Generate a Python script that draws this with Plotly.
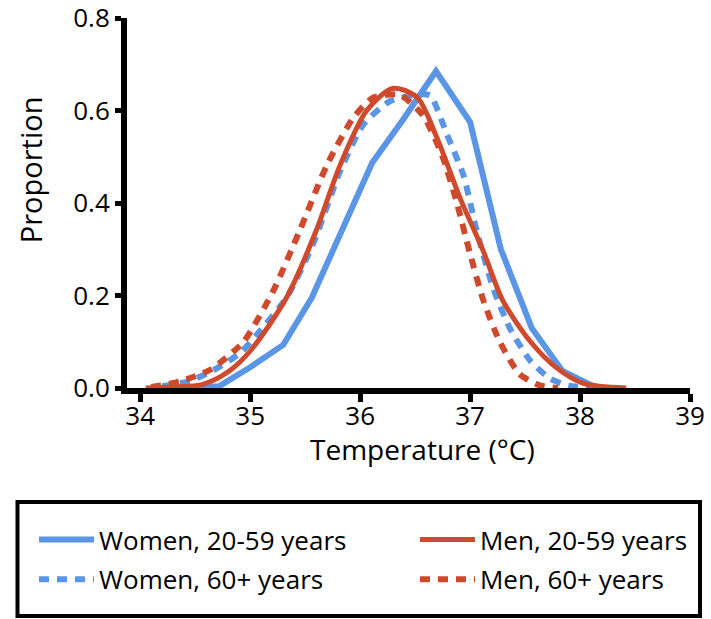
import plotly.graph_objects as go

# ---- data ----
women_young_x = [34.16, 34.44, 34.72, 35.0, 35.3, 35.56, 35.83, 36.11, 36.39, 36.69, 37.0, 37.28, 37.56, 37.84, 38.12]
women_young_y = [0.0, 0.003, 0.004, 0.045, 0.093, 0.195, 0.34, 0.487, 0.58, 0.685, 0.575, 0.30, 0.13, 0.037, 0.004]

women_old_x = [34.2, 34.45, 34.7, 34.91, 35.06, 35.33, 35.57, 35.82, 36.03, 36.27, 36.55, 36.64, 36.79, 36.94, 37.06, 37.21, 37.36, 37.55, 37.73, 37.9, 38.1]
women_old_y = [0.004, 0.015, 0.043, 0.076, 0.115, 0.195, 0.31, 0.47, 0.57, 0.62, 0.635, 0.632, 0.548, 0.46, 0.34, 0.216, 0.13, 0.058, 0.02, 0.005, 0.0]

men_young_x = [34.05, 34.3, 34.57, 34.8, 35.0, 35.33, 35.6, 35.82, 36.06, 36.3, 36.52, 36.7, 36.91, 37.12, 37.3, 37.55, 37.79, 38.03, 38.42]
men_young_y = [0.0, 0.002, 0.008, 0.035, 0.08, 0.195, 0.34, 0.483, 0.6, 0.648, 0.628, 0.54, 0.41, 0.296, 0.188, 0.10, 0.043, 0.01, 0.0]

men_old_x = [34.1, 34.36, 34.64, 34.94, 35.21, 35.45, 35.7, 35.94, 36.12, 36.36, 36.57, 36.75, 36.88, 37.0, 37.12, 37.27, 37.45, 37.64, 37.8]
men_old_y = [0.002, 0.014, 0.04, 0.10, 0.21, 0.34, 0.483, 0.585, 0.628, 0.634, 0.59, 0.50, 0.40, 0.29, 0.19, 0.10, 0.03, 0.005, 0.0]

x_ticks = [34, 35, 36, 37, 38, 39]
y_ticks = [0.0, 0.2, 0.4, 0.6, 0.8]
y_tick_labels = ["0.0", "0.2", "0.4", "0.6", "0.8"]

BLUE = "#5B95E6"
RED = "#CF4A2C"
FONT = "Open Sans"

fig = go.Figure()
fig.add_trace(go.Scatter(x=women_young_x, y=women_young_y, mode="lines", name="Women, 20-59 years",
                         legend="legend", legendgroup="a",
                         line=dict(color=BLUE, width=6)))
fig.add_trace(go.Scatter(x=women_old_x, y=women_old_y, mode="lines", name="Women, 60+ years",
                         legend="legend", legendgroup="b",
                         line=dict(color=BLUE, width=6, dash="10px,8px", shape="spline", smoothing=0.6)))
fig.add_trace(go.Scatter(x=men_young_x, y=men_young_y, mode="lines", name="Men, 20-59 years",
                         legend="legend2", legendgroup="c",
                         line=dict(color=RED, width=5, shape="spline", smoothing=0.8)))
fig.add_trace(go.Scatter(x=men_old_x, y=men_old_y, mode="lines", name="Men, 60+ years",
                         legend="legend2", legendgroup="d",
                         line=dict(color=RED, width=6, dash="10px,8px", shape="spline", smoothing=0.6)))

legend_common = dict(
    orientation="v", yanchor="top", xanchor="left",
    bgcolor="rgba(0,0,0,0)", borderwidth=0,
    font=dict(family=FONT, size=26, color="black"),
    itemwidth=55, tracegroupgap=3,
)

fig.update_layout(
    width=711, height=619,
    margin=dict(l=127, r=21, t=18, b=231, autoexpand=False),
    plot_bgcolor="white", paper_bgcolor="white",
    font=dict(family=FONT, color="black", size=26),
    showlegend=True,
    legend=dict(x=-0.1652, y=-0.346, **legend_common),
    legend2=dict(x=0.5115, y=-0.346, **legend_common),
    xaxis=dict(
        range=[33.88, 39.0], tickmode="array", tickvals=x_ticks,
        ticktext=[str(v) for v in x_ticks],
        showline=True, linecolor="black", linewidth=6, mirror=False,
        ticks="outside", ticklen=8, tickwidth=5, tickcolor="black",
        showgrid=False, zeroline=False,
        tickfont=dict(size=26), ticklabeloverflow="allow", ticklabelstandoff=-8,
    ),
    yaxis=dict(
        range=[0, 0.8], tickmode="array", tickvals=y_ticks, ticktext=y_tick_labels,
        showline=True, linecolor="black", linewidth=6,
        ticks="outside", ticklen=6, tickwidth=5, tickcolor="black",
        showgrid=False, zeroline=False,
        tickfont=dict(size=26), ticklabeloverflow="allow",
    ),
    annotations=[
        dict(text="Temperature (°C)", xref="paper", yref="paper", x=0.524, y=-0.166,
             xanchor="center", yanchor="middle", showarrow=False, font=dict(size=28), borderpad=0),
        dict(text="Proportion", xref="paper", yref="paper", x=-0.172, y=0.589,
             xanchor="center", yanchor="middle", textangle=-90, showarrow=False, font=dict(size=29)),
    ],
    shapes=[
        dict(type="rect", xref="paper", yref="paper", x0=-0.1945, x1=1.0178, y0=-0.6162, y1=-0.3081,
             line=dict(color="black", width=4), fillcolor="rgba(0,0,0,0)", layer="above"),
    ],
)

fig.write_html("out.html", config={"displayModeBar": False},
               post_script="document.body.style.margin='0';")
